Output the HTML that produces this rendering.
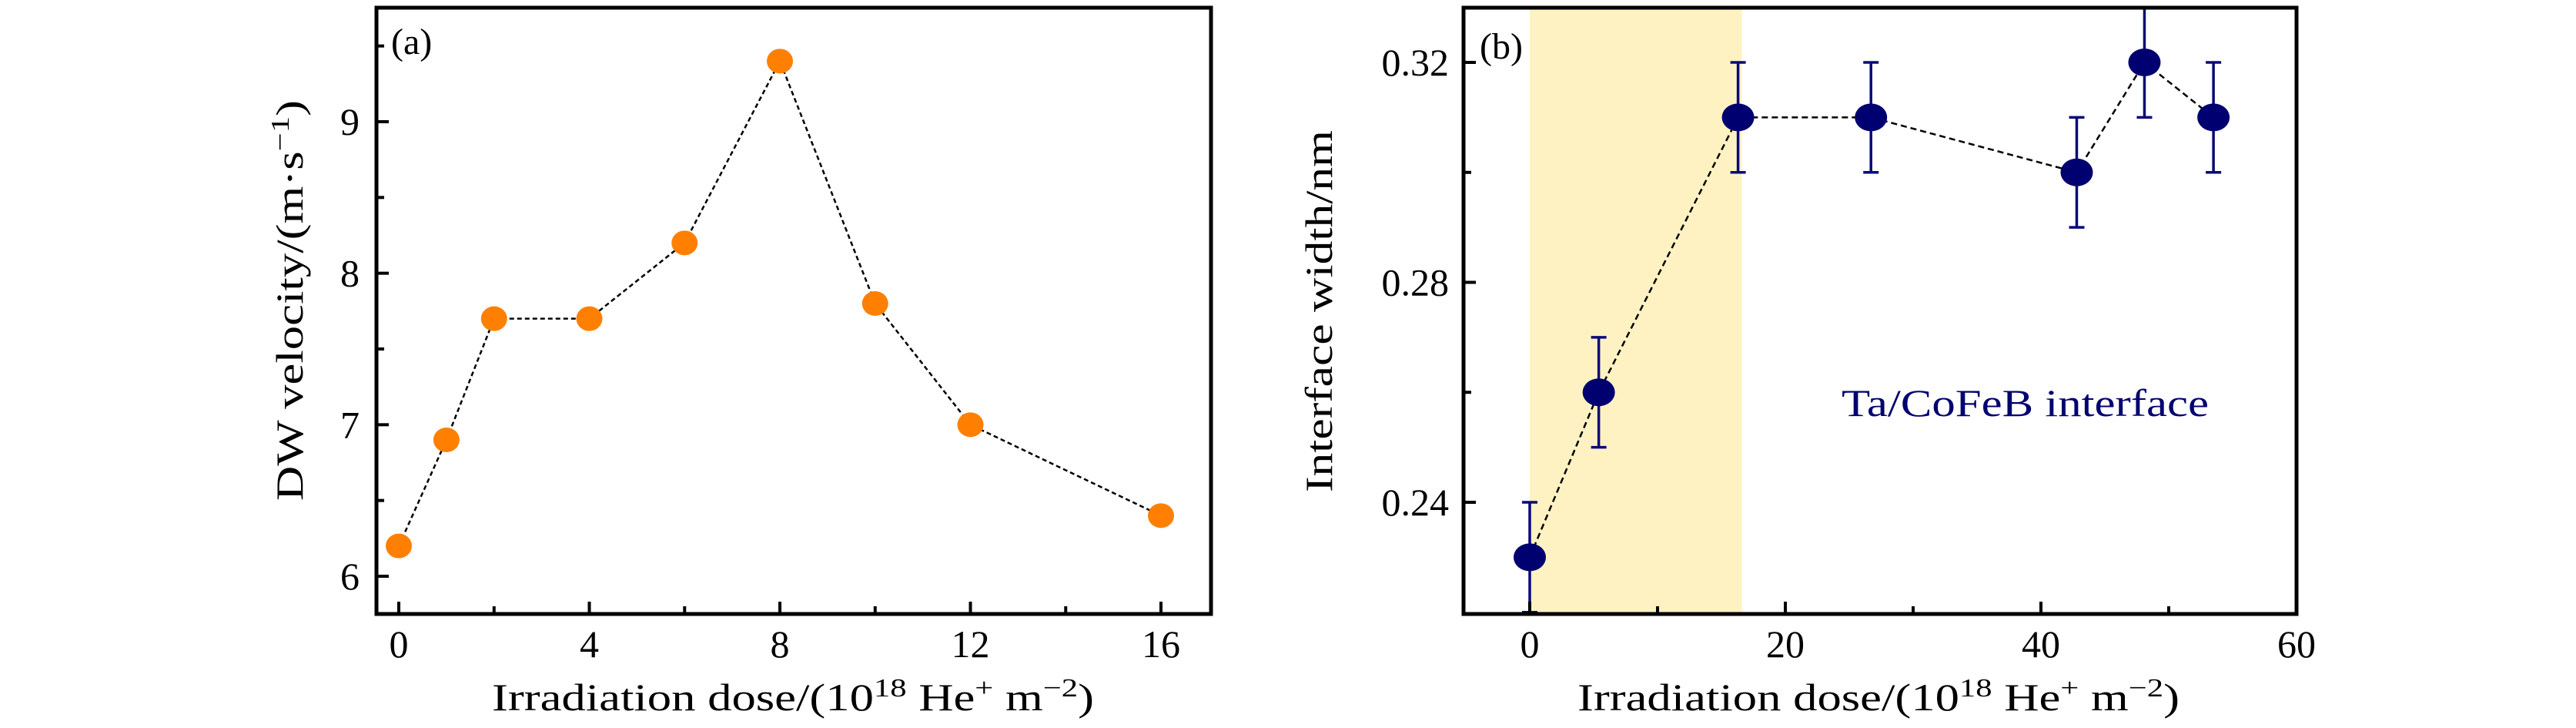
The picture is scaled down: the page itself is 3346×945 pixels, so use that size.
<!DOCTYPE html>
<html><head><meta charset="utf-8"><style>
body{margin:0;background:#fff}
svg{display:block}
text{font-family:"Liberation Serif",serif;fill:#000}
</style></head><body>
<svg id="fig" width="3346" height="945" viewBox="0 0 3346 945" xmlns="http://www.w3.org/2000/svg">
<g id="pa"></g>
<g id="pb"></g>
</svg>
<script>
// Panel (a) data
const aDose = [0, 1, 2, 4, 6, 8, 10, 12, 16];
const aVel = [6.2, 6.9, 7.7, 7.7, 8.2, 9.4, 7.8, 7.0, 6.4];
const aXTicks = [0, 4, 8, 12, 16];
const aXMinor = [2, 6, 10, 14];
const aYTicks = [6, 7, 8, 9];
const aYMinor = [6.5, 7.5, 8.5, 9.5];
// Panel (b) data
const bDose = [0, 5.4, 16.3, 26.7, 42.8, 48.1, 53.5];
const bWidth = [0.23, 0.26, 0.31, 0.31, 0.30, 0.32, 0.31];
const bErr = [0.01, 0.01, 0.01, 0.01, 0.01, 0.01, 0.01];
const bShade = [0, 16.6];
const bXTicks = [0, 20, 40, 60];
const bXMinor = [10, 30, 50];
const bYTicks = [0.24, 0.28, 0.32];
const bYMinor = [0.26, 0.30];

const NS = "http://www.w3.org/2000/svg";
function mk(parent, tag, attrs, txt){
  const e = document.createElementNS(NS, tag);
  for (const k in attrs) e.setAttribute(k, attrs[k]);
  if (txt !== undefined) e.textContent = txt;
  parent.appendChild(e);
  return e;
}
function scale(d0, d1, r0, r1){ return v => r0 + (v - d0) * (r1 - r0) / (d1 - d0); }

// ---------- Panel a ----------
(function(){
  const g = document.getElementById('pa');
  const L = 489, R = 1573, T = 10, B = 797;
  const x = scale(0, 16, 518, 1508);
  const y = scale(6, 9, 748, 158);
  let e;
  e = mk(g, 'polyline', {points: aDose.map((d,i)=>x(d)+','+y(aVel[i])).join(' '), fill:'none', stroke:'#000', 'stroke-width':2.5, 'stroke-dasharray':'6,4'});
  
  
  aDose.forEach((d,i)=>{
    const c = mk(g, 'ellipse', {cx:x(d), cy:y(aVel[i]), rx:17, ry:16, fill:'#ff8000'});
    
    
  });
  e = mk(g, 'rect', {x:L, y:T, width:R-L, height:B-T, fill:'none', stroke:'#000', 'stroke-width':5});
  
  
  aXTicks.forEach(t=>{
    mk(g, 'line', {x1:x(t), x2:x(t), y1:B, y2:B-16, stroke:'#000', 'stroke-width':4});
    const l = mk(g, 'text', {x:x(t), y:853, 'font-size':50, 'text-anchor':'middle'}, String(t));
    
    
  });
  aXMinor.forEach(t=>mk(g, 'line', {x1:x(t), x2:x(t), y1:B, y2:B-10, stroke:'#000', 'stroke-width':4}));
  aYTicks.forEach(t=>{
    mk(g, 'line', {x1:L, x2:L+16, y1:y(t), y2:y(t), stroke:'#000', 'stroke-width':4});
    const l = mk(g, 'text', {x:467, y:y(t)+17, 'font-size':50, 'text-anchor':'end'}, String(t));
    
    
  });
  aYMinor.forEach(t=>mk(g, 'line', {x1:L, x2:L+10, y1:y(t), y2:y(t), stroke:'#000', 'stroke-width':4}));
  e = mk(g, 'text', {x:508, y:70, 'font-size':48}, '(a)');
  
  
  e = mk(g, 'text', {x:1030, y:922, 'font-size':50, 'text-anchor':'middle', textLength:782, lengthAdjust:'spacingAndGlyphs'});
  e.innerHTML = 'Irradiation dose/(10<tspan dy="-18" font-size="34">18</tspan><tspan dy="18"> He</tspan><tspan dy="-18" font-size="34">+</tspan><tspan dy="18"> m</tspan><tspan dy="-18" font-size="34">−2</tspan><tspan dy="18">)</tspan>';
  
  
  e = mk(g, 'text', {x:0, y:0, 'font-size':50, 'text-anchor':'middle', transform:'translate(393,390) rotate(-90)', textLength:520, lengthAdjust:'spacingAndGlyphs'});
  e.innerHTML = 'DW velocity/(m·s<tspan dy="-18" font-size="34">−1</tspan><tspan dy="18">)</tspan>';
  
  
})();

// ---------- Panel b ----------
(function(){
  const g = document.getElementById('pb');
  const L = 1901, R = 2983, T = 10, B = 797;
  const x = scale(0, 60, 1987, 2983);
  const y = scale(0.24, 0.32, 652, 81);
  let e;
  e = mk(g, 'rect', {x:x(bShade[0]), y:T, width:x(bShade[1])-x(bShade[0]), height:B-T, fill:'#fff2c2'});
  
  
  e = mk(g, 'polyline', {points: bDose.map((d,i)=>x(d)+','+y(bWidth[i])).join(' '), fill:'none', stroke:'#000', 'stroke-width':2.5, 'stroke-dasharray':'8,5'});
  
  
  bDose.forEach((d,i)=>{
    const cx = x(d), y1 = Math.max(T, y(bWidth[i]+bErr[i])), y2 = Math.min(B, y(bWidth[i]-bErr[i]));
    const eb = mk(g, 'path', {d:`M${cx},${y1}V${y2}M${cx-10},${y1}H${cx+10}M${cx-10},${y2}H${cx+10}`, stroke:'#0a0a78', 'stroke-width':3.5, fill:'none'});
    
    
    const c = mk(g, 'ellipse', {cx:cx, cy:y(bWidth[i]), rx:21, ry:18, fill:'#000070'});
    
    
  });
  e = mk(g, 'rect', {x:L, y:T, width:R-L, height:B-T, fill:'none', stroke:'#000', 'stroke-width':5});
  
  
  bXTicks.forEach(t=>{
    mk(g, 'line', {x1:x(t), x2:x(t), y1:B, y2:B-16, stroke:'#000', 'stroke-width':4});
    const l = mk(g, 'text', {x:x(t), y:853, 'font-size':50, 'text-anchor':'middle'}, String(t));
    
    
  });
  bXMinor.forEach(t=>mk(g, 'line', {x1:x(t), x2:x(t), y1:B, y2:B-10, stroke:'#000', 'stroke-width':4}));
  bYTicks.forEach(t=>{
    mk(g, 'line', {x1:L, x2:L+16, y1:y(t), y2:y(t), stroke:'#000', 'stroke-width':4});
    const l = mk(g, 'text', {x:1882, y:y(t)+17, 'font-size':50, 'text-anchor':'end'}, t.toFixed(2));
    
    
  });
  bYMinor.forEach(t=>mk(g, 'line', {x1:L, x2:L+10, y1:y(t), y2:y(t), stroke:'#000', 'stroke-width':4}));
  e = mk(g, 'text', {x:1922, y:76, 'font-size':48}, '(b)');
  
  
  e = mk(g, 'text', {x:2392, y:540, 'font-size':50, fill:'#000070', textLength:477, lengthAdjust:'spacingAndGlyphs', style:'fill:#000070'}, 'Ta/CoFeB interface');
  
  
  e = mk(g, 'text', {x:2440, y:922, 'font-size':50, 'text-anchor':'middle', textLength:782, lengthAdjust:'spacingAndGlyphs'});
  e.innerHTML = 'Irradiation dose/(10<tspan dy="-18" font-size="34">18</tspan><tspan dy="18"> He</tspan><tspan dy="-18" font-size="34">+</tspan><tspan dy="18"> m</tspan><tspan dy="-18" font-size="34">−2</tspan><tspan dy="18">)</tspan>';
  
  
  e = mk(g, 'text', {x:0, y:0, 'font-size':50, 'text-anchor':'middle', transform:'translate(1730,404) rotate(-90)', textLength:470, lengthAdjust:'spacingAndGlyphs'}, 'Interface width/nm');
  
  
})();
</script>
</body></html>
